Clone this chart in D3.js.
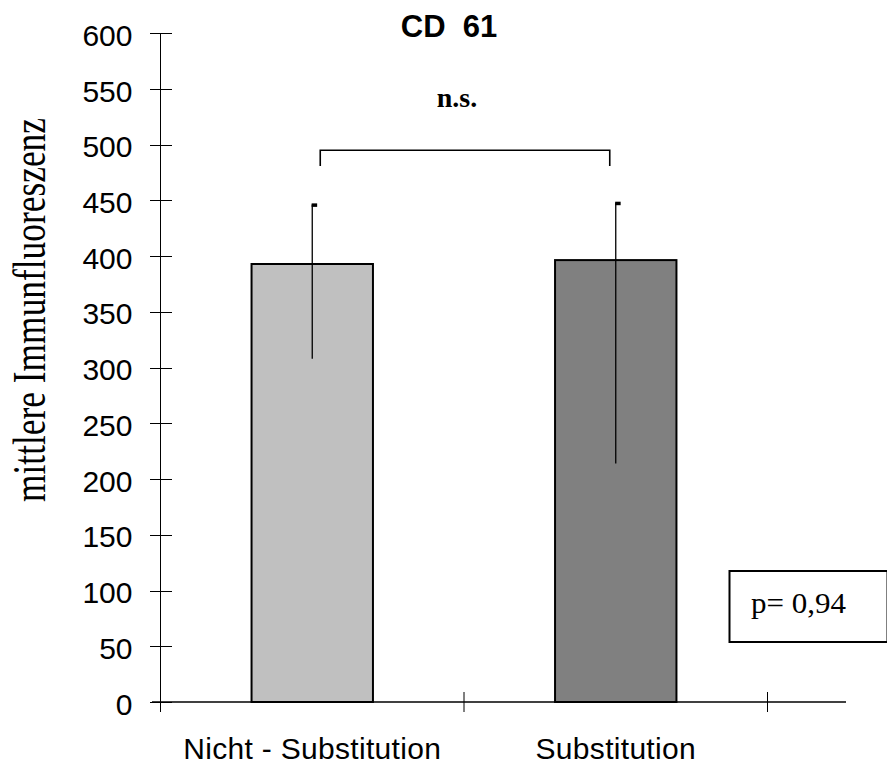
<!DOCTYPE html>
<html>
<head>
<meta charset="utf-8">
<script src="https://cdn.jsdelivr.net/npm/d3@7"></script>
<style>
  html, body { margin: 0; padding: 0; background: #fff; }
  svg { display: block; }
</style>
</head>
<body>
<svg id="chart" width="887" height="767"></svg>
<script>
// CD 61 mean immunofluorescence per group
const categories = ["Nicht - Substitution", "Substitution"];
const means = [393, 396.5];
const errUpper = [446.5, 448];
const errLower = [308, 214];
const barColors = ["#c0c0c0", "#808080"];
const yTicks = [0, 50, 100, 150, 200, 250, 300, 350, 400, 450, 500, 550, 600];
const titleText = "CD  61";
const yLabel = "mittlere Immunfluoreszenz";
const sigText = "n.s.";
const pText = "p= 0,94";
const bracketLevels = [495, 481]; // bracket top and arm end, in axis units

const svg = d3.select("#chart");
const sans = "'Liberation Sans', Arial, sans-serif";
const serif = "'Liberation Serif', 'Times New Roman', serif";

const y = d3.scaleLinear().domain([0, 600]).range([702, 33.3]);
const x = d3.scaleBand().domain(categories).range([160.5, 767.5]).padding(0);
const barW = x.bandwidth() * 0.4;
const cx = c => x(c) + x.bandwidth() / 2;

// Bars
svg.append("g").selectAll("rect")
  .data(categories)
  .join("rect")
  .attr("x", c => cx(c) - barW / 2)
  .attr("y", (c, i) => y(means[i]))
  .attr("width", barW)
  .attr("height", (c, i) => y(0) - y(means[i]))
  .attr("fill", (c, i) => barColors[i])
  .attr("stroke", "#000")
  .attr("stroke-width", 2);

// Error bars
const eg = svg.append("g");
categories.forEach((c, i) => {
  eg.append("line")
    .attr("x1", cx(c)).attr("x2", cx(c))
    .attr("y1", y(errUpper[i])).attr("y2", y(errLower[i]))
    .attr("stroke", "#000").attr("stroke-width", 1.3);
  eg.append("rect")
    .attr("x", cx(c) - 0.6).attr("y", y(errUpper[i]) - 1)
    .attr("width", 5.5).attr("height", 3.5)
    .attr("fill", "#000");
});

// Y axis
const yAxis = d3.axisLeft(y).tickValues(yTicks).tickSize(0).tickFormat(d3.format("d"));
const ya = svg.append("g").attr("transform", "translate(160.5,0)").call(yAxis);
ya.select(".domain").remove();
ya.selectAll("text")
  .attr("x", -28).attr("dy", "0.4em")
  .attr("font-family", sans).attr("font-size", 30).attr("fill", "#000");
svg.append("line")
  .attr("x1", 160.5).attr("x2", 160.5).attr("y1", y(600)).attr("y2", y(0) + 10)
  .attr("stroke", "#000").attr("stroke-width", 1);
svg.append("g").selectAll("line").data(yTicks).join("line")
  .attr("x1", 150).attr("x2", 172)
  .attr("y1", d => Math.round(y(d)) + 0.5).attr("y2", d => Math.round(y(d)) + 0.5)
  .attr("stroke", "#000").attr("stroke-width", 1);

// X axis
svg.append("line")
  .attr("x1", 152).attr("x2", 846).attr("y1", y(0)).attr("y2", y(0))
  .attr("stroke", "#000").attr("stroke-width", 1.3);
svg.append("g").selectAll("line").data(categories).join("line")
  .attr("x1", c => x(c) + x.bandwidth()).attr("x2", c => x(c) + x.bandwidth())
  .attr("y1", y(0) - 10).attr("y2", y(0) + 10)
  .attr("stroke", "#000").attr("stroke-width", 1);
svg.append("g").selectAll("text").data(categories).join("text")
  .attr("x", cx).attr("y", 759)
  .attr("text-anchor", "middle")
  .attr("font-family", sans).attr("font-size", 30)
  .attr("letter-spacing", 0.3)
  .text(d => d);

// Y axis title
svg.append("text")
  .attr("transform", "translate(45,310) rotate(-90)")
  .attr("text-anchor", "middle")
  .attr("font-family", serif).attr("font-size", 46)
  .attr("textLength", 384).attr("lengthAdjust", "spacingAndGlyphs")
  .text(yLabel);

// Title
svg.append("text")
  .attr("x", 449).attr("y", 37)
  .attr("text-anchor", "middle")
  .attr("font-family", sans).attr("font-weight", "bold").attr("font-size", 31)
  .style("white-space", "pre")
  .text(titleText);

// Significance bracket
const bx1 = cx(categories[0]) + 8, bx2 = cx(categories[1]) - 6;
svg.append("path")
  .attr("d", `M${bx1},${y(bracketLevels[1])}V${y(bracketLevels[0])}H${bx2}V${y(bracketLevels[1])}`)
  .attr("fill", "none").attr("stroke", "#000").attr("stroke-width", 1.6);
svg.append("text")
  .attr("x", 457).attr("y", 107)
  .attr("text-anchor", "middle")
  .attr("font-family", serif).attr("font-weight", "bold").attr("font-size", 28)
  .text(sigText);

// p-value box
svg.append("rect")
  .attr("x", 729.5).attr("y", 571).attr("width", 158).attr("height", 71)
  .attr("fill", "#fff").attr("stroke", "#000").attr("stroke-width", 2);
svg.append("text")
  .attr("x", 751).attr("y", 613)
  .attr("font-family", serif).attr("font-size", 29)
  .attr("textLength", 95).attr("lengthAdjust", "spacingAndGlyphs")
  .text(pText);
</script>
</body>
</html>
